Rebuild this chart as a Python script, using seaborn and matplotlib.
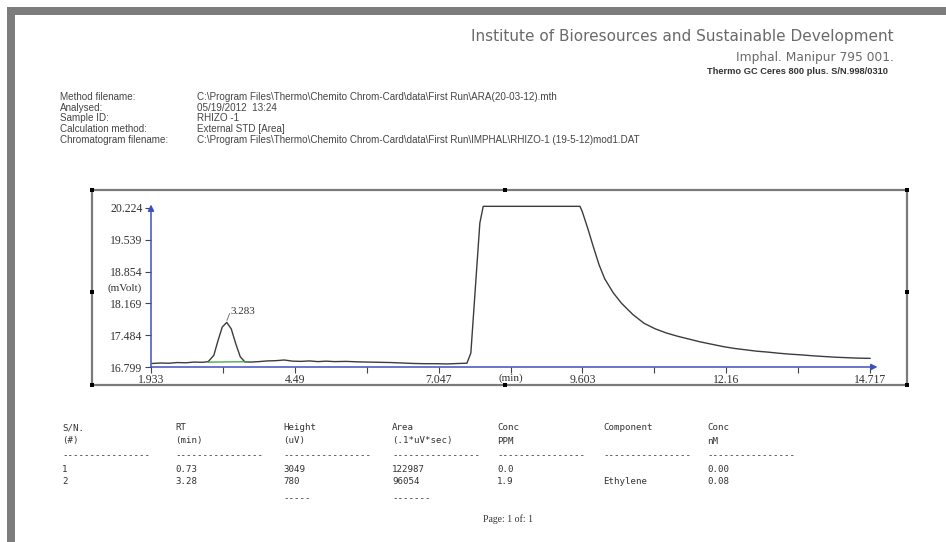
import numpy as np
import pandas as pd
import matplotlib.pyplot as plt
import matplotlib.transforms as mtransforms
from matplotlib.patches import Rectangle
import seaborn as sns

# chromatogram trace (time in min, signal in mVolt)
times = [1.95, 2.10, 2.25, 2.40, 2.55, 2.70, 2.85, 2.95, 3.05, 3.12, 3.20, 3.28,
         3.36, 3.44, 3.52, 3.60, 3.70, 3.85, 4.00, 4.15, 4.30, 4.45, 4.60, 4.75,
         4.90, 5.05, 5.20, 5.40, 5.60, 5.80, 6.00, 6.20, 6.40, 6.60, 6.80, 7.00,
         7.20, 7.40, 7.55, 7.62, 7.70, 7.78, 7.84, 9.56, 9.60, 9.70, 9.80, 9.90,
         10.00, 10.15, 10.30, 10.50, 10.70, 10.90, 11.10, 11.30, 11.50, 11.70,
         11.90, 12.10, 12.30, 12.50, 12.70, 12.90, 13.10, 13.30, 13.50, 13.70,
         13.90, 14.10, 14.30, 14.50, 14.72]
signal = [16.875, 16.885, 16.880, 16.895, 16.890, 16.905, 16.900, 16.915, 17.05,
          17.35, 17.66, 17.76, 17.62, 17.30, 17.02, 16.91, 16.905, 16.915, 16.93,
          16.935, 16.95, 16.925, 16.92, 16.93, 16.915, 16.925, 16.915, 16.92,
          16.91, 16.905, 16.90, 16.895, 16.885, 16.875, 16.87, 16.87, 16.865,
          16.875, 16.88, 17.10, 18.50, 19.90, 20.26, 20.26, 20.15, 19.78, 19.38,
          19.00, 18.70, 18.40, 18.17, 17.93, 17.74, 17.62, 17.53, 17.46, 17.40,
          17.34, 17.29, 17.24, 17.20, 17.17, 17.14, 17.12, 17.095, 17.075, 17.06,
          17.04, 17.025, 17.01, 17.00, 16.99, 16.985]

# peak baseline (green) under the 3.283 peak
base_t = [2.95, 3.65]
base_v = [16.905, 16.912]

y_ticks = [16.799, 17.484, 18.169, 18.854, 19.539, 20.224]
x_major = [1.933, 4.49, 7.047, 9.603, 12.16, 14.717]
x_minor = [3.2115, 5.7685, 8.325, 10.8815, 13.4385]

meta_labels = ['Method filename:', 'Analysed:', 'Sample ID:', 'Calculation method:',
               'Chromatogram filename:']
meta_values = [r'C:\Program Files\Thermo\Chemito Chrom-Card\data\First Run\ARA(20-03-12).mth',
               '05/19/2012  13:24',
               'RHIZO -1',
               'External STD [Area]',
               r'C:\Program Files\Thermo\Chemito Chrom-Card\data\First Run\IMPHAL\RHIZO-1 (19-5-12)mod1.DAT']

col_head1 = ['S/N.', 'RT', 'Height', 'Area', 'Conc', 'Component', 'Conc']
col_head2 = ['(#)', '(min)', '(uV)', '(.1*uV*sec)', 'PPM', '', 'nM']
row1 = ['1', '0.73', '3049', '122987', '0.0', '', '0.00']
row2 = ['2', '3.28', '780', '96054', '1.9', 'Ethylene', '0.08']

W, H = 946, 542
def px(x, y):
    return x / W, 1 - y / H

sns.set_style('white')
fig = plt.figure(figsize=(9.46, 5.42), dpi=100)
fig.patch.set_facecolor('white')

# page border (screenshot frame)
fig.add_artist(Rectangle(px(7, 15), (W - 7) / W, 8 / H, transform=fig.transFigure,
                         color='#7d7d7d', lw=0))
fig.add_artist(Rectangle(px(7, H), 8 / W, (H - 7) / H, transform=fig.transFigure,
                         color='#7d7d7d', lw=0))

# header
fig.text(*px(894, 36), 'Institute of Bioresources and Sustainable Development',
         ha='right', va='center', fontsize=11, color='#6a6a6a', family='DejaVu Sans')
fig.text(*px(894, 57), 'Imphal. Manipur 795 001.', ha='right', va='center',
         fontsize=8.8, color='#6a6a6a', family='DejaVu Sans')
fig.text(*px(888, 71), 'Thermo GC Ceres 800 plus. S/N.998/0310', ha='right',
         va='center', fontsize=6.7, color='#333333', family='Liberation Sans',
         weight='bold')

for i, (lab, val) in enumerate(zip(meta_labels, meta_values)):
    y = 97 + i * 10.7
    fig.text(*px(60, y), lab, ha='left', va='center', fontsize=7.1,
             color='#444444', family='Liberation Sans')
    fig.text(*px(197, y), val, ha='left', va='center', fontsize=7.1,
             color='#444444', family='Liberation Sans')

# chart frame with handles
fr_top, fr_bot = 190, 385
fig.add_artist(Rectangle(px(92, fr_bot), (907 - 92) / W, (fr_bot - fr_top) / H,
                         transform=fig.transFigure, fill=False, ec='#7a7a7a', lw=1.6))
for hx, hy in [(92, fr_top), (505, fr_top), (907, fr_top), (92, 292), (907, 292),
               (92, fr_bot), (505, fr_bot), (907, fr_bot)]:
    fig.add_artist(Rectangle(px(hx - 2, hy + 2), 4 / W, 4 / H,
                             transform=fig.transFigure, color='black', lw=0))

# plot area
x0, x1 = 151, 880
ya, yb = 367, 203
ax = fig.add_axes([x0 / W, 1 - ya / H, (x1 - x0) / W, (ya - yb) / H])
ax.set_facecolor('none')
xmax = 1.933 + (x1 - x0) * (14.717 - 1.933) / (870 - 151)
ymax = 16.799 + (ya - yb) * (20.224 - 16.799) / (367 - 208)
ax.set_xlim(1.933, xmax)
ax.set_ylim(16.799, ymax)

trace = pd.DataFrame({'time': times, 'mV': signal})
sns.lineplot(data=trace, x='time', y='mV', ax=ax, color='#3c3c3c', lw=1.0,
             estimator=None)
ax.plot(base_t, base_v, color='#3aa03a', lw=0.9)

blue = '#3f4fbf'
ax.annotate('', xy=(14.85, 16.799), xytext=(1.933, 16.799),
            arrowprops=dict(arrowstyle='-|>', color=blue, lw=1.1, mutation_scale=9,
                            shrinkA=0, shrinkB=0), annotation_clip=False)
ax.annotate('', xy=(1.933, 20.30), xytext=(1.933, 16.799),
            arrowprops=dict(arrowstyle='-|>', color=blue, lw=1.1, mutation_scale=9,
                            shrinkA=0, shrinkB=0), annotation_clip=False)

for s in ax.spines.values():
    s.set_visible(False)
ax.set_yticks(y_ticks)
ax.set_yticklabels([f'{v:.3f}' for v in y_ticks])
ax.set_xticks(x_major)
ax.set_xticklabels(['1.933', '4.49', '7.047', '9.603', '12.16', '14.717'])
ax.set_xticks(x_minor, minor=True)
ax.tick_params(axis='both', which='both', direction='out', length=4, width=0.8,
               color='#444444', labelsize=8.5, labelcolor='#333333', pad=2,
               bottom=True, left=True)
ax.tick_params(axis='x', which='major', pad=1)
for lab in ax.get_xticklabels() + ax.get_yticklabels():
    lab.set_family('Liberation Serif')
ax.set_xlabel('')
ax.set_ylabel('')
shift = mtransforms.ScaledTranslation(0, -6 / 100, fig.dpi_scale_trans)
ax.text(8.325, 16.799, '(min)', ha='center', va='top', fontsize=8,
        family='Liberation Serif', color='#333333', transform=ax.transData + shift)
ax.text(-0.036, 0.48, '(mVolt)', transform=ax.transAxes, ha='center', va='center',
        fontsize=8, family='Liberation Serif', color='#333333')

# peak label
ax.plot([3.283, 3.33], [17.80, 17.95], color='#777777', lw=0.7)
ax.text(3.35, 18.0, '3.283', ha='left', va='center', fontsize=8,
        family='Liberation Serif', color='#333333')

# results table
cols_x = [62, 175, 283, 392, 497, 603, 707]
mono = dict(fontsize=6.6, family='DejaVu Sans Mono', color='#333333', va='center',
            ha='left')
for cx, a, b, r1, r2 in zip(cols_x, col_head1, col_head2, row1, row2):
    fig.text(*px(cx, 428), a, **mono)
    fig.text(*px(cx, 441), b, **mono)
    fig.text(*px(cx, 456), '-' * 16, **mono)
    fig.text(*px(cx, 469), r1, **mono)
    fig.text(*px(cx, 481), r2, **mono)
fig.text(*px(283, 499), '-----', **mono)
fig.text(*px(392, 499), '-------', **mono)

fig.text(*px(508, 519), 'Page: 1 of: 1', ha='center', va='center', fontsize=7,
         family='Liberation Serif', color='#333333')

plt.savefig('out.png', dpi=100)
